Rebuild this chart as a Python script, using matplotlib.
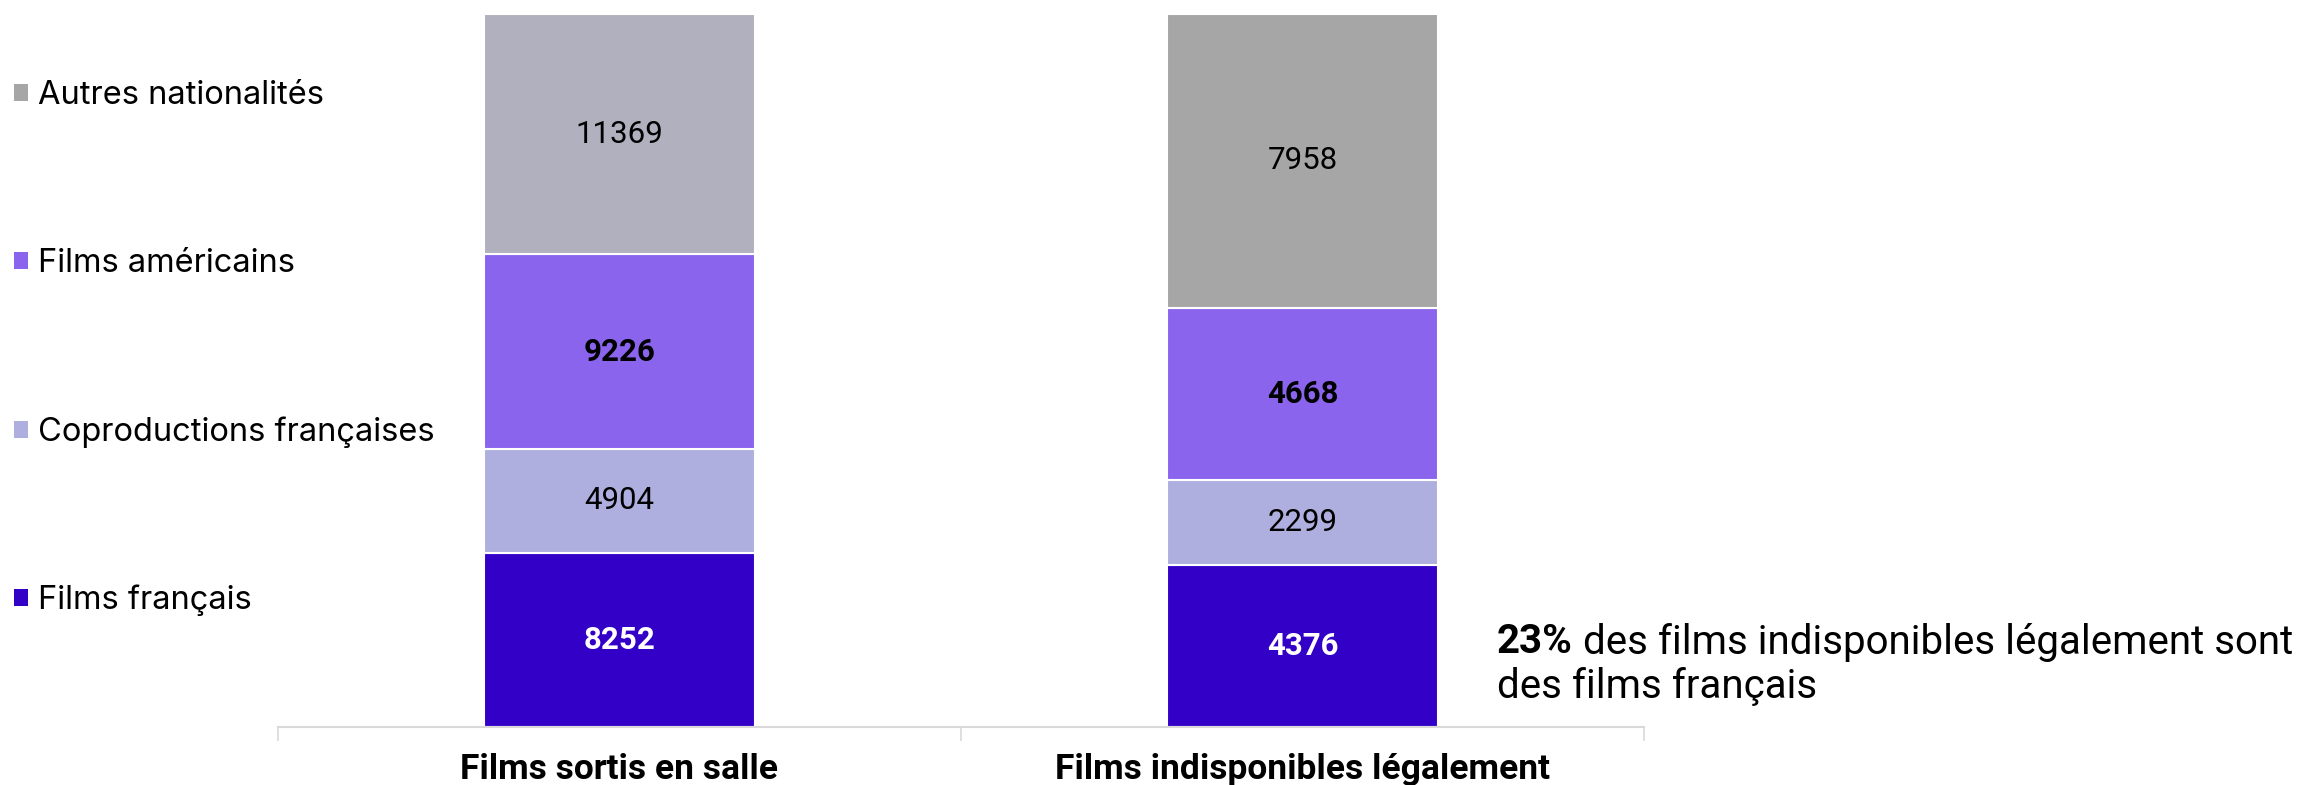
import matplotlib
matplotlib.use("Agg")
import matplotlib.pyplot as plt
import numpy as np
from matplotlib.patches import Patch

# ---- data ----
categories = ["Films sortis en salle", "Films indisponibles légalement"]
series_names = ["Films français", "Coproductions françaises", "Films américains", "Autres nationalités"]
films_francais = [8252, 4376]
coproductions = [4904, 2299]
films_americains = [9226, 4668]
autres = [11369, 7958]

series_values = [films_francais, coproductions, films_americains, autres]

# ---- styles ----
colors = {
    "Films français": ["#3300C8", "#3300C8"],
    "Coproductions françaises": ["#AFAFDF", "#AFAFDF"],
    "Films américains": ["#8B64EE", "#8B64EE"],
    "Autres nationalités": ["#B1B0BF", "#A6A6A6"],
}
legend_colors = {
    "Films français": "#3300C8",
    "Coproductions françaises": "#AFAFDF",
    "Films américains": "#8B64EE",
    "Autres nationalités": "#A6A6A6",
}
label_style = {
    "Films français": ("white", "bold"),
    "Coproductions françaises": ("black", "normal"),
    "Films américains": ("black", "bold"),
    "Autres nationalités": ("black", "normal"),
}

NARROW = ["Roboto", "DejaVu Sans"]
WIDE = ["Inter", "DejaVu Sans"]

W, H, DPI = 2305, 785, 100
fig = plt.figure(figsize=(W / DPI, H / DPI), dpi=DPI)
ax = fig.add_axes([278 / W, 1 - 727 / H, 1366 / W, 713 / H])

x = np.arange(len(categories))
totals = np.sum(np.array(series_values, dtype=float), axis=0)
bottom = np.zeros(len(categories))
bar_w = 0.397
for name, vals in zip(series_names, series_values):
    share = np.array(vals, dtype=float) / totals
    ax.bar(x, share, bar_w, bottom=bottom, color=colors[name],
           edgecolor="white", linewidth=1.5)
    tc, tw = label_style[name]
    for xi, b, s, v in zip(x, bottom, share, vals):
        ax.text(xi, b + s / 2, f"{v}", ha="center", va="center",
                color=tc, fontweight=tw, fontsize=22.5, family=NARROW)
    bottom += share

ax.set_xlim(-0.5, 1.5)
ax.set_ylim(0, 1)
for sp in ["top", "right", "left"]:
    ax.spines[sp].set_visible(False)
ax.spines["bottom"].set_color("#D9D9D9")
ax.spines["bottom"].set_linewidth(1.5)
ax.set_yticks([])
ax.set_xticks(x)
ax.set_xticklabels(categories, fontsize=25.5, fontweight="bold", family=NARROW)
ax.tick_params(axis="x", which="major", length=0, pad=19)
ax.set_xticks([-0.5, 0.5, 1.5], minor=True)
ax.tick_params(axis="x", which="minor", length=10, color="#D9D9D9", width=1.2)

# legend
handles = [Patch(facecolor=legend_colors[n], edgecolor="none") for n in series_names[::-1]]
leg = fig.legend(handles, series_names[::-1], loc="upper left",
                 bbox_to_anchor=(14 / W, 1 - 80 / H), frameon=False,
                 prop={"family": WIDE, "size": 23.5},
                 handlelength=0.42, handleheight=0.42, handletextpad=0.3,
                 labelspacing=4.2, borderaxespad=0, borderpad=0)

# annotation
fig.canvas.draw()
r = fig.canvas.get_renderer()
t1 = fig.text(1497 / W, 1 - 642 / H, "23%", fontsize=29, fontweight="bold",
              family=NARROW, va="center", ha="left")
bb = t1.get_window_extent(renderer=r)
fig.text((bb.x1 + 10) / W, 1 - 642 / H, "des films indisponibles légalement sont",
         fontsize=29, family=NARROW, va="center", ha="left")
fig.text(1497 / W, 1 - 686 / H, "des films français", fontsize=29,
         family=NARROW, va="center", ha="left")

fig.savefig("out.png", dpi=DPI)
